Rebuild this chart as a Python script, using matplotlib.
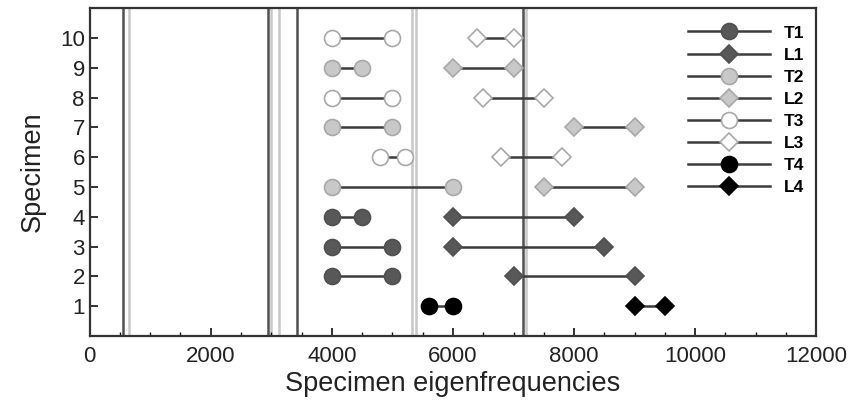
import numpy as np
import matplotlib
matplotlib.use('Agg')
import matplotlib.pyplot as plt
from matplotlib.lines import Line2D
from matplotlib.ticker import MultipleLocator

plt.rcParams['font.family'] = ['Liberation Sans', 'DejaVu Sans']

# data
specimens = [1, 2, 3, 4, 5, 6, 7, 8, 9, 10]
group = [4, 1, 1, 1, 2, 3, 2, 3, 2, 3]
t_low = [5600, 4000, 4000, 4000, 4000, 4800, 4000, 4000, 4000, 4000]
t_high = [6000, 5000, 5000, 4500, 6000, 5200, 5000, 5000, 4500, 5000]
l_low = [9000, 7000, 6000, 6000, 7500, 6800, 8000, 6500, 6000, 6400]
l_high = [9500, 9000, 8500, 8000, 9000, 7800, 9000, 7500, 7000, 7000]

dark_lines = [550, 2950, 3430, 7150]
light_lines = [650, 3000, 3130, 5320, 5390, 7210]

# fill / edge per group
fills = {1: '#585858', 2: '#c8c8c8', 3: '#ffffff', 4: '#000000'}
edges = {1: '#505050', 2: '#a8a8a8', 3: '#a8a8a8', 4: '#000000'}
line_col = '#3c3c3c'

fig = plt.figure(figsize=(8.62, 4.04), dpi=100)
ax = fig.add_axes([0.104, 0.168, 0.843, 0.812])

for x in dark_lines:
    ax.axvline(x, color='#505050', lw=1.8, zorder=1)
for x in light_lines:
    ax.axvline(x, color='#c8c8c8', lw=1.8, zorder=1)

for s, g, a, b, c, d in zip(specimens, group, t_low, t_high, l_low, l_high):
    ax.plot([a, b], [s, s], '-', color=line_col, lw=1.8, zorder=2)
    ax.plot([a, b], [s, s], 'o', ms=11.5, mfc=fills[g], mec=edges[g], mew=1.2, zorder=3)
    ax.plot([c, d], [s, s], '-', color=line_col, lw=1.8, zorder=2)
    ax.plot([c, d], [s, s], 'D', ms=9, mfc=fills[g], mec=edges[g], mew=1.2, zorder=3)

handles = []
labels = []
for g in [1, 2, 3, 4]:
    handles.append(Line2D([], [], color=line_col, lw=1.8, marker='o', ms=11.5,
                          mfc=fills[g], mec=edges[g], mew=1.2))
    labels.append('T%d' % g)
    handles.append(Line2D([], [], color=line_col, lw=1.8, marker='D', ms=9,
                          mfc=fills[g], mec=edges[g], mew=1.2))
    labels.append('L%d' % g)

leg = ax.legend(handles, labels, loc='upper right', frameon=False,
                bbox_to_anchor=(1.014, 1.016),
                handlelength=4.7, labelspacing=0.4, handletextpad=0.8,
                borderaxespad=0.9, prop={'weight': 'bold', 'size': 12.5})

ax.set_xlim(0, 12000)
ax.set_ylim(0, 11)
ax.set_xticks([0, 2000, 4000, 6000, 8000, 10000, 12000])
ax.xaxis.set_minor_locator(MultipleLocator(500))
ax.set_yticks(specimens)
ax.tick_params(direction='in', labelsize=16, width=1.3, length=6, colors='#222222')
ax.tick_params(which='minor', direction='in', length=3, width=1)
ax.tick_params(axis='x', pad=7)
for sp in ax.spines.values():
    sp.set_linewidth(1.6)
    sp.set_color('#333333')

ax.set_xlabel('Specimen eigenfrequencies', fontsize=19.5, color='#222222', labelpad=3)
ax.set_ylabel('Specimen', fontsize=19.5, color='#222222', labelpad=10)

fig.savefig('out.png', dpi=100)
